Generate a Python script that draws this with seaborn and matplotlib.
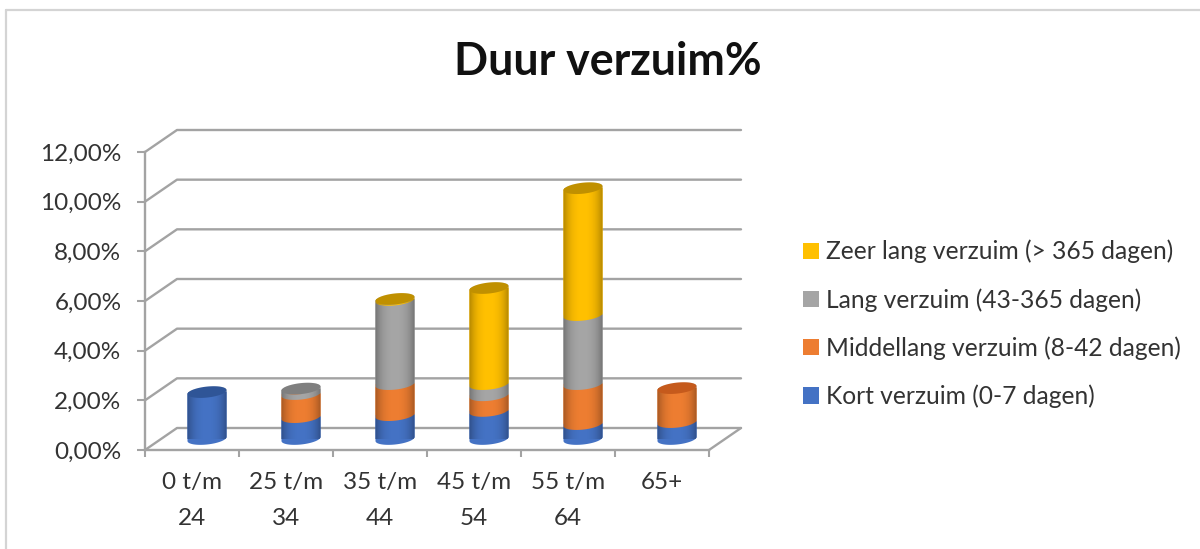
import numpy as np
import matplotlib
matplotlib.use("Agg")
import matplotlib.pyplot as plt
from matplotlib.lines import Line2D
from matplotlib.patches import Patch
from matplotlib.path import Path
import seaborn as sns

categories = ["0 t/m\n24", "25 t/m\n34", "35 t/m\n44", "45 t/m\n54", "55 t/m\n64", "65+\n"]
kort = [1.89, 0.88, 0.96, 1.13, 0.60, 0.68]
middellang = [0.00, 0.93, 1.25, 0.63, 1.61, 1.37]
lang = [0.00, 0.22, 3.39, 0.45, 2.78, 0.00]
zeer_lang = [0.00, 0.00, 0.04, 3.87, 5.11, 0.00]
series_names = ["Kort verzuim (0-7 dagen)", "Middellang verzuim (8-42 dagen)",
                "Lang verzuim (43-365 dagen)", "Zeer lang verzuim (> 365 dagen)"]
series_values = [kort, middellang, lang, zeer_lang]
colors = ["#4472c4", "#ed7d31", "#a5a5a5", "#ffc000"]
cap_colors = ["#2f5597", "#c55a1c", "#7f7f7f", "#c09000"]
y_ticks = [0, 2, 4, 6, 8, 10, 12]

sns.set_theme(style="white")
plt.rcParams["font.family"] = ["Lato", "DejaVu Sans"]
W, H = 1200, 549
fig = plt.figure(figsize=(W / 100, H / 100), dpi=100, facecolor="white")
text_c = "#333333"
grid_c = "#a3a3a3"


def px_axes(x0, x1, y_bottom, y_top):
    return fig.add_axes([x0 / W, (H - y_bottom) / H, (x1 - x0) / W, (y_bottom - y_top) / H])


# frame of the chart area
for xs, ys in [((6, 6), (549, 10)), ((6, 1200), (10, 10))]:
    fig.add_artist(Line2D([x / W for x in xs], [(H - y) / H for y in ys], color="#d4d4d4", lw=1.6))

# front plane of the 3D box: real axis, ticks and labels
front = px_axes(145, 709, 450, 152)
front.set_xlim(0, 6)
front.set_ylim(0, 12)
front.patch.set_alpha(0)
for s in ["top", "right"]:
    front.spines[s].set_visible(False)
for s in ["left", "bottom"]:
    front.spines[s].set_color(grid_c)
    front.spines[s].set_linewidth(1.7)
front.set_yticks(y_ticks)
front.set_yticklabels([f"{v:.2f}%".replace(".", ",") for v in y_ticks], fontsize=17.5, color=text_c)
front.set_xticks(range(7))
front.set_xticklabels([])
front.set_xticks(np.arange(6) + 0.5, minor=True)
front.set_xticklabels(categories, minor=True, fontsize=17.5, color=text_c, linespacing=1.88)
front.tick_params(axis="y", which="major", length=6, width=1.5, color=grid_c, pad=11, left=True)
front.tick_params(axis="x", which="major", length=5, width=1.5, color=grid_c, bottom=True)
front.tick_params(axis="x", which="minor", length=0, pad=16)

# walls and floor
dx = 32 / 94.0
dy = 22 / 24.83
for v in y_ticks:
    front.plot([0, dx, 6 + dx], [v, v + dy, v + dy], color=grid_c, lw=1.7, clip_on=False, zorder=1)
front.plot([6, 6 + dx], [0, dy], color=grid_c, lw=1.7, clip_on=False, zorder=1)

# cylinders, on the mid-depth plane
ax = px_axes(160, 724, 439, 141)
ax.patch.set_alpha(0)
bar_w = 0.415
a, b = 5.5 / 24.83, 2.0 / 24.83
n = len(categories)


def rim(c, v, t):
    return c + bar_w / 2 * np.cos(t), v + a * np.sin(t) + b * np.cos(t)


low = np.linspace(np.pi, 2 * np.pi, 40)
up = np.linspace(0, np.pi, 40)
bottoms = np.zeros(n)
for vals, col in zip(series_values, colors):
    sns.barplot(x=categories, y=vals, bottom=bottoms, color=col, saturation=1, width=bar_w,
                ax=ax, zorder=1, linewidth=0)
    bottoms = bottoms + np.array(vals)
totals = bottoms.copy()

shade = (np.abs(np.linspace(-1, 1, 64)) ** 2.6).reshape(1, -1)
rgba = np.zeros((1, 64, 4))
rgba[..., 3] = 0.30 * shade
z = 2.0
outlines = []
for i in range(n):
    bx, by = rim(i, 0, low)
    tx, ty = rim(i, totals[i], up)
    outline = Path(np.column_stack([np.r_[bx, tx], np.r_[by, ty]]))
    outlines.append(outline)
    base = 0.0
    top_idx = 0
    for k, vals in enumerate(series_values):
        if vals[i] <= 0:
            continue
        x0, y0 = rim(i, base, low)
        end = base + vals[i]
        x1, y1 = rim(i, end, low[::-1])
        ax.fill(np.r_[x0, x1], np.r_[y0, y1], color=colors[k], lw=0, zorder=z, clip_on=False)
        z += 0.01
        base = end
        top_idx = k
    im = ax.imshow(rgba, extent=[i - bar_w / 2, i + bar_w / 2, -1, totals[i] + 1], aspect="auto", zorder=50)
    im.set_clip_path(outline, ax.transData)
    cx, cy = rim(i, totals[i], np.linspace(0, 2 * np.pi, 80))
    ax.fill(cx, cy, color=cap_colors[top_idx], lw=0, zorder=60, clip_on=False)

for container in ax.containers:
    for i, patch in enumerate(container):
        patch.set_clip_path(outlines[i], ax.transData)
ax.set_xlim(-0.5, 5.5)
ax.set_ylim(0, 12)
ax.axis("off")

fig.text(608 / W, (H - 62) / H, "Duur verzuim%", ha="center", va="center", fontsize=32.2,
         fontweight="bold", color="#111111")

handles = [Patch(facecolor=c, edgecolor="none") for c in colors[::-1]]
fig.legend(handles, series_names[::-1], loc="upper left", bbox_to_anchor=(793 / W, (H - 230) / H),
           frameon=False, fontsize=17.7, labelcolor=text_c, handlelength=0.65, handleheight=0.65,
           handletextpad=0.3, labelspacing=1.0, borderpad=0.4, borderaxespad=0)

fig.savefig("out.png", dpi=100, facecolor="white")
